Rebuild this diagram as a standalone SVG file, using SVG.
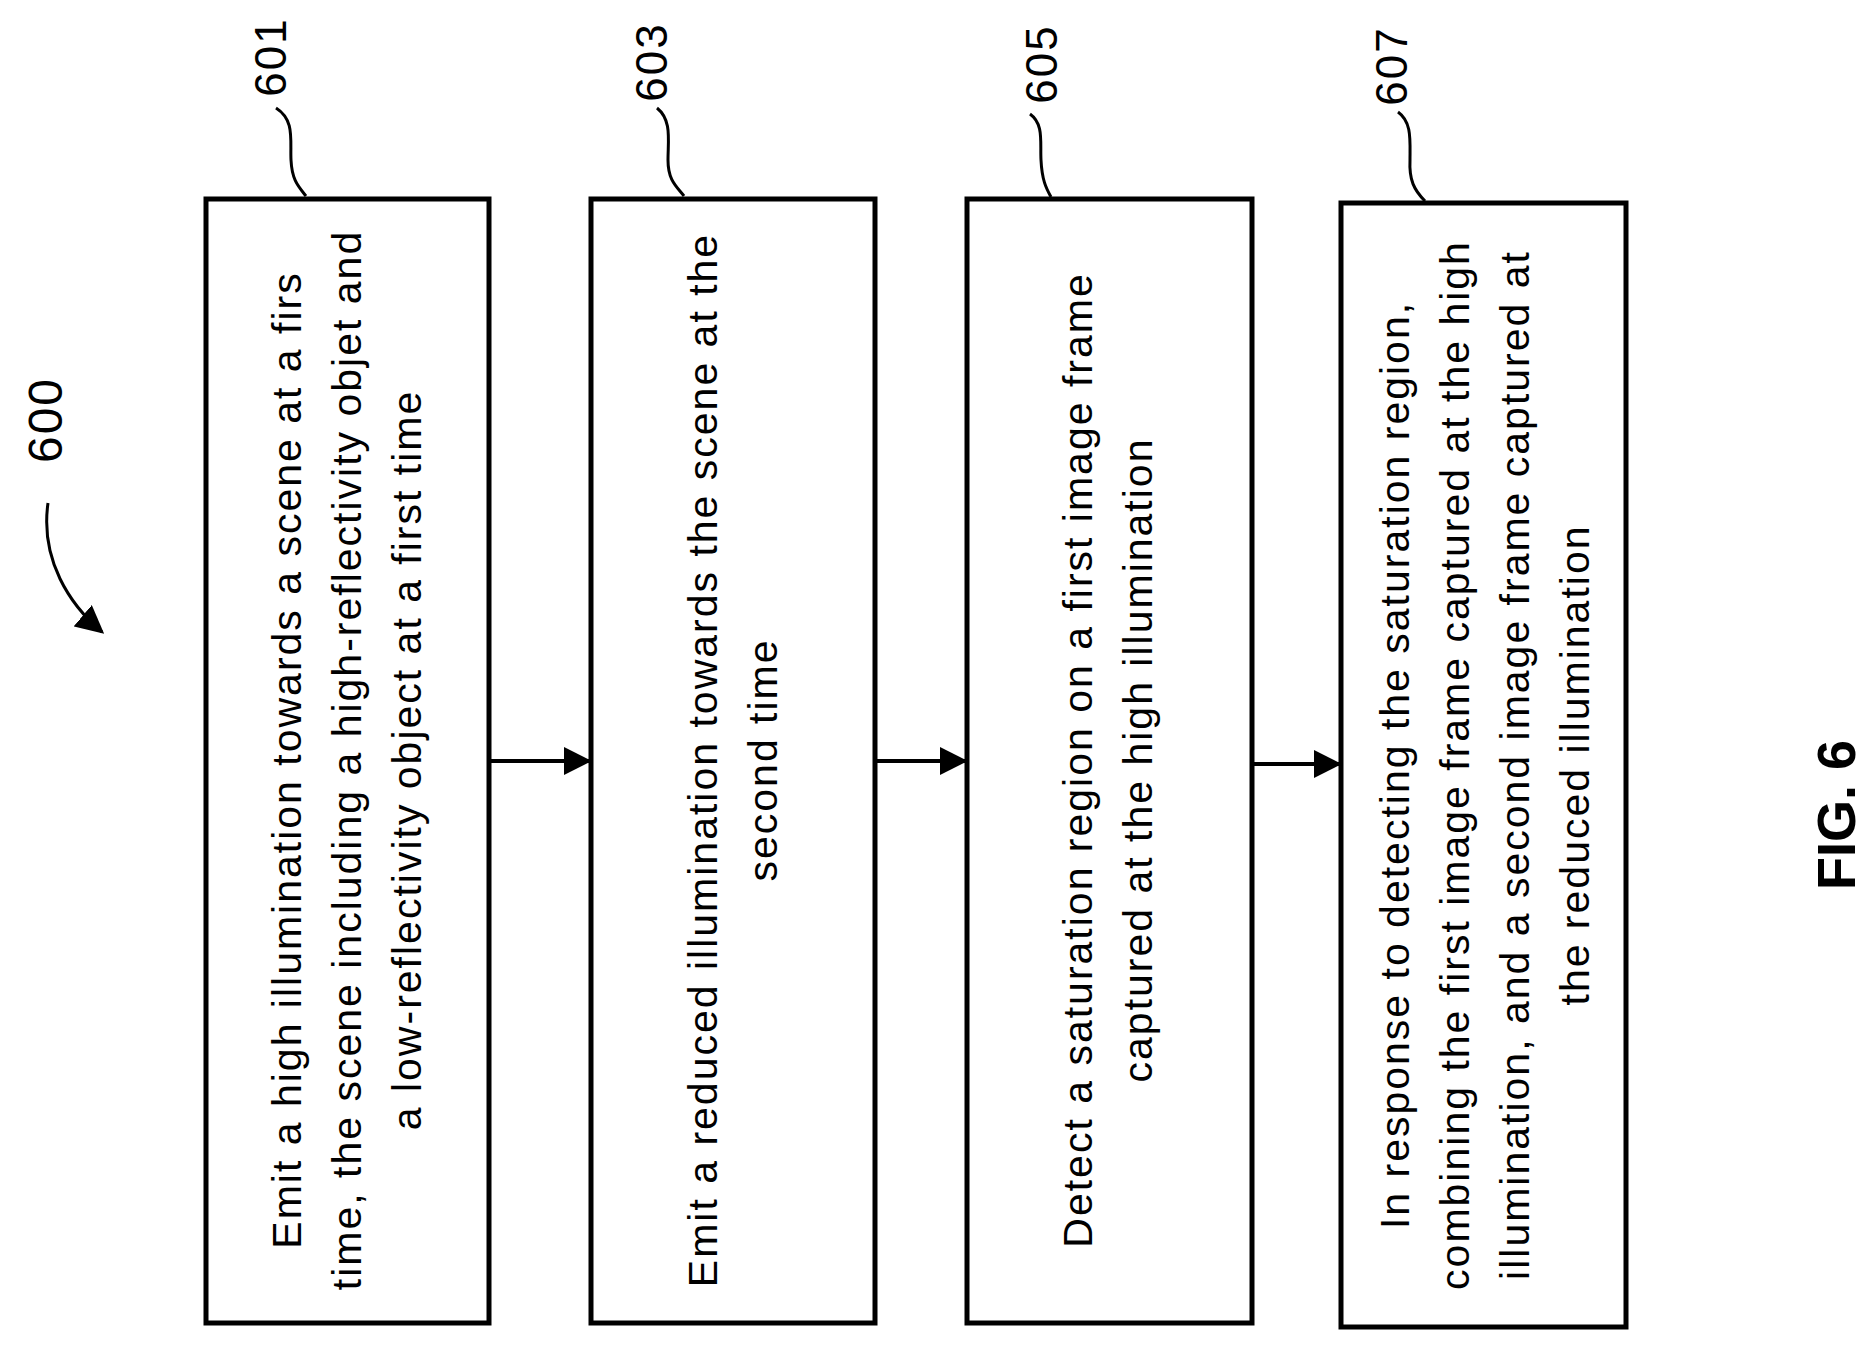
<svg xmlns="http://www.w3.org/2000/svg" width="1873" height="1346" viewBox="0 0 1873 1346">
<style>
.box{fill:#fff;stroke:#000;stroke-width:5}
.t{font-family:"Liberation Sans",Arial,sans-serif;font-size:41px;letter-spacing:2px;fill:#000;text-anchor:middle}
.lbl{font-family:"Liberation Sans",Arial,sans-serif;font-size:44px;letter-spacing:2px;fill:#000;text-anchor:middle}
.ld{fill:none;stroke:#000;stroke-width:3}
.con{fill:none;stroke:#000;stroke-width:4}
</style>
<defs>
<marker id="ah2" viewBox="0 0 10 10" refX="9" refY="5" markerWidth="28" markerHeight="28" orient="auto" markerUnits="userSpaceOnUse"><path d="M0,0 L10,5 L0,10 z"/></marker>
</defs>
<g id="ref600">
<text class="lbl" transform="translate(62,420) rotate(-90)" style="font-size:48px">600</text>
<path class="ld" d="M48,503 C40,560 70,605 102,632" marker-end="url(#ah2)"/>
</g>
<g id="n601">
<rect class="box" x="206" y="199" width="283" height="1124"/>
<text class="t" transform="translate(347,760) rotate(-90)"><tspan x="0" y="-46">Emit a high illumination towards a scene at a firs</tspan><tspan x="0" y="14">time, the scene including a high-reflectivity objet and</tspan><tspan x="0" y="74">a low-reflectivity object at a first time</tspan></text>
<text class="lbl" transform="translate(286,57) rotate(-90)">601</text>
<path class="ld" d="M276,108 C295,120 290,140 291,160 C292,180 298,186 306,196"/>
</g>
<g id="n603">
<rect class="box" x="591" y="199" width="284" height="1124"/>
<text class="t" transform="translate(733,760) rotate(-90)"><tspan x="0" y="-16">Emit a reduced illumination towards the scene at the</tspan><tspan x="0" y="44">second time</tspan></text>
<text class="lbl" transform="translate(667,62) rotate(-90)">603</text>
<path class="ld" d="M657,108 C672,120 668,140 668,160 C668,180 676,186 684,196"/>
</g>
<g id="n605">
<rect class="box" x="967" y="199" width="285" height="1124"/>
<text class="t" transform="translate(1108,760) rotate(-90)"><tspan x="0" y="-16">Detect a saturation region on a first image frame</tspan><tspan x="0" y="44">captured at the high illumination</tspan></text>
<text class="lbl" transform="translate(1057,64) rotate(-90)">605</text>
<path class="ld" d="M1030,114 C1044,124 1040,142 1041,160 C1042,180 1046,188 1051,197"/>
</g>
<g id="n607">
<rect class="box" x="1341" y="203" width="285" height="1124"/>
<text class="t" transform="translate(1485,765) rotate(-90)"><tspan x="0" y="-76">In response to detecting the saturation region,</tspan><tspan x="0" y="-16">combining the first image frame captured at the high</tspan><tspan x="0" y="44">illumination, and a second image frame captured at</tspan><tspan x="0" y="104">the reduced illumination</tspan></text>
<text class="lbl" transform="translate(1407,66) rotate(-90)">607</text>
<path class="ld" d="M1398,112 C1412,122 1410,140 1410,160 C1409,180 1414,190 1425,201"/>
</g>
<g id="connectors">
<path class="con" d="M489,761 H589" marker-end="url(#ah2)"/>
<path class="con" d="M875,761 H965" marker-end="url(#ah2)"/>
<path class="con" d="M1252,764 H1339" marker-end="url(#ah2)"/>
</g>
<text transform="translate(1855,815) rotate(-90)" style="font-family:'Liberation Sans',Arial,sans-serif;font-size:54px;font-weight:bold;text-anchor:middle">FIG. 6</text>
</svg>
